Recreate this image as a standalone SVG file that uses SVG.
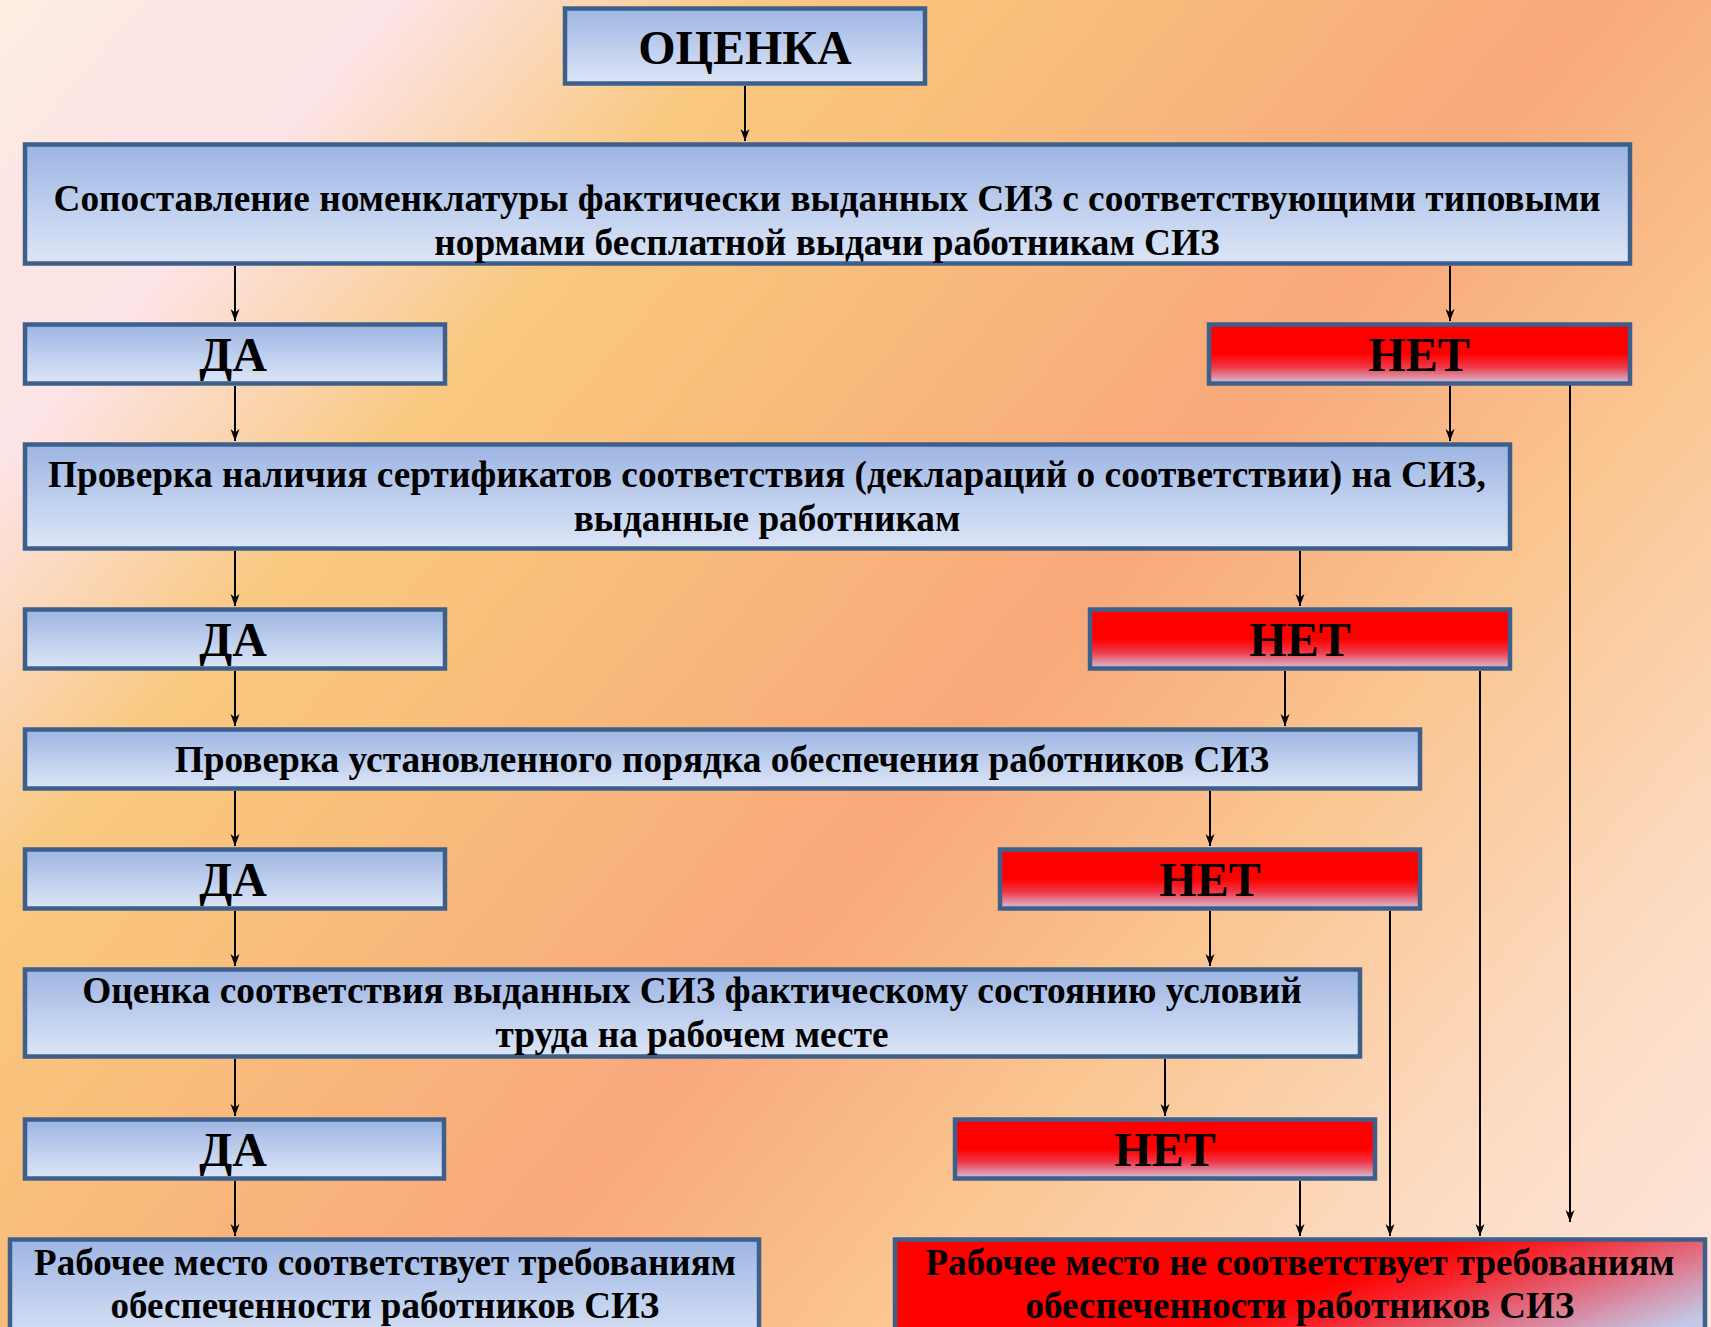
<svg xmlns="http://www.w3.org/2000/svg" width="1711" height="1327" viewBox="0 0 1711 1327">
<defs>
<linearGradient id="bg" gradientUnits="userSpaceOnUse" x1="0" y1="0" x2="1642" y2="1407">
<stop offset="0" stop-color="#fdeee2"/>
<stop offset="0.07" stop-color="#fde5e4"/>
<stop offset="0.14" stop-color="#fde4e6"/>
<stop offset="0.22" stop-color="#fad3a8"/>
<stop offset="0.27" stop-color="#f9c880"/>
<stop offset="0.36" stop-color="#f9c07c"/>
<stop offset="0.56" stop-color="#f8a87b"/>
<stop offset="0.7" stop-color="#fac590"/>
<stop offset="0.87" stop-color="#fcdcc4"/>
<stop offset="1" stop-color="#fde6dc"/>
</linearGradient>
<linearGradient id="blue" x1="0" y1="0" x2="0" y2="1">
<stop offset="0" stop-color="#9db5e3"/>
<stop offset="1" stop-color="#dde6f7"/>
</linearGradient>
<linearGradient id="red" x1="0" y1="0" x2="0" y2="1">
<stop offset="0" stop-color="#ff0000"/>
<stop offset="0.5" stop-color="#ff0000"/>
<stop offset="0.72" stop-color="#ee3848"/>
<stop offset="1" stop-color="#d4c4dc"/>
</linearGradient>
<linearGradient id="redh" x1="0" y1="0.3" x2="1" y2="0.7">
<stop offset="0" stop-color="#ff0000"/>
<stop offset="0.5" stop-color="#ff0000"/>
<stop offset="0.62" stop-color="#f5262e"/>
<stop offset="0.82" stop-color="#dc7c92"/>
<stop offset="1" stop-color="#c3c9e8"/>
</linearGradient>
<marker id="arr" markerUnits="userSpaceOnUse" markerWidth="14" markerHeight="12" viewBox="0 0 14 12" refX="13" refY="6" orient="auto">
<path d="M1,1.5 L13,6 L1,10.5 L4.5,6 Z" fill="#000"/>
</marker>
<style>
.b{fill:url(#blue);stroke:#3d5f8c;stroke-width:4.5}
.r{fill:url(#red);stroke:#3d5f8c;stroke-width:4.5}
.rh{fill:url(#redh);stroke:#3d5f8c;stroke-width:4.5}
.t{font-family:"Liberation Serif","Times New Roman",serif;font-weight:bold;fill:#000;text-anchor:middle}
.big{font-size:48px}
.m{font-size:37.3px}
.f{font-size:37px}
.c{fill:none;stroke:#000;stroke-width:2}
</style>
</defs>
<rect x="0" y="0" width="1711" height="1327" fill="url(#bg)"/>

<g id="connectors">
<line class="c" x1="745" y1="86" x2="745" y2="141" marker-end="url(#arr)"/>
<line class="c" x1="235" y1="266" x2="235" y2="321" marker-end="url(#arr)"/>
<line class="c" x1="1450" y1="266" x2="1450" y2="321" marker-end="url(#arr)"/>
<line class="c" x1="1450" y1="386" x2="1450" y2="441" marker-end="url(#arr)"/>
<line class="c" x1="235" y1="386" x2="235" y2="441" marker-end="url(#arr)"/>
<line class="c" x1="235" y1="551" x2="235" y2="606" marker-end="url(#arr)"/>
<line class="c" x1="1300" y1="551" x2="1300" y2="606" marker-end="url(#arr)"/>
<line class="c" x1="1285" y1="671" x2="1285" y2="726" marker-end="url(#arr)"/>
<line class="c" x1="235" y1="671" x2="235" y2="726" marker-end="url(#arr)"/>
<line class="c" x1="235" y1="791" x2="235" y2="846" marker-end="url(#arr)"/>
<line class="c" x1="1210" y1="791" x2="1210" y2="846" marker-end="url(#arr)"/>
<line class="c" x1="1210" y1="911" x2="1210" y2="966" marker-end="url(#arr)"/>
<line class="c" x1="235" y1="911" x2="235" y2="966" marker-end="url(#arr)"/>
<line class="c" x1="235" y1="1059" x2="235" y2="1116" marker-end="url(#arr)"/>
<line class="c" x1="1165" y1="1059" x2="1165" y2="1116" marker-end="url(#arr)"/>
<line class="c" x1="235" y1="1181" x2="235" y2="1236" marker-end="url(#arr)"/>
<line class="c" x1="1300" y1="1181" x2="1300" y2="1236" marker-end="url(#arr)"/>
<line class="c" x1="1390" y1="911" x2="1390" y2="1236" marker-end="url(#arr)"/>
<line class="c" x1="1480" y1="671" x2="1480" y2="1236" marker-end="url(#arr)"/>
<line class="c" x1="1570" y1="369" x2="1570" y2="1222" marker-end="url(#arr)"/>
</g>

<g id="ocenka">
<rect class="b" x="565" y="8.5" width="360" height="75"/>
<text class="t" x="745" y="64" style="font-size:48px">ОЦЕНКА</text>
</g>
<g id="box1">
<rect class="b" x="25" y="144.5" width="1605" height="119"/>
<text class="t m" x="827" y="211">Сопоставление номенклатуры фактически выданных СИЗ с соответствующими типовыми</text>
<text class="t m" x="827" y="255">нормами бесплатной выдачи работникам СИЗ</text>
</g>
<g id="da1">
<rect class="b" x="25" y="324.5" width="420" height="59"/>
<text class="t big" x="233" y="371">ДА</text>
</g>
<g id="net1">
<rect class="r" x="1209" y="324.5" width="421" height="59"/>
<text class="t big" x="1419" y="371">НЕТ</text>
</g>
<g id="box2">
<rect class="b" x="25" y="444.5" width="1485" height="104"/>
<text class="t m" x="767" y="487">Проверка наличия сертификатов соответствия (деклараций о соответствии) на СИЗ,</text>
<text class="t m" x="767" y="531">выданные работникам</text>
</g>
<g id="da2">
<rect class="b" x="25" y="609.5" width="420" height="59"/>
<text class="t big" x="233" y="656">ДА</text>
</g>
<g id="net2">
<rect class="r" x="1090" y="609.5" width="420" height="59"/>
<text class="t big" x="1300" y="656">НЕТ</text>
</g>
<g id="box3">
<rect class="b" x="25" y="729.5" width="1395" height="59"/>
<text class="t m" x="722" y="772">Проверка установленного порядка обеспечения работников СИЗ</text>
</g>
<g id="da3">
<rect class="b" x="25" y="849.5" width="420" height="59"/>
<text class="t big" x="233" y="896">ДА</text>
</g>
<g id="net3">
<rect class="r" x="1000" y="849.5" width="420" height="59"/>
<text class="t big" x="1210" y="896">НЕТ</text>
</g>
<g id="box4">
<rect class="b" x="25" y="969.5" width="1335" height="87"/>
<text class="t m" x="692" y="1003">Оценка соответствия выданных СИЗ фактическому состоянию условий</text>
<text class="t m" x="692" y="1047">труда на рабочем месте</text>
</g>
<g id="da4">
<rect class="b" x="25" y="1119.5" width="419" height="59"/>
<text class="t big" x="233" y="1166">ДА</text>
</g>
<g id="net4">
<rect class="r" x="955" y="1119.5" width="420" height="59"/>
<text class="t big" x="1165" y="1166">НЕТ</text>
</g>
<g id="final_ok">
<rect class="b" x="10" y="1239.5" width="749" height="110"/>
<text class="t f" x="385" y="1275">Рабочее место соответствует требованиям</text>
<text class="t f" x="385" y="1318">обеспеченности работников СИЗ</text>
</g>
<g id="final_no">
<rect class="rh" x="895" y="1239.5" width="810" height="110"/>
<text class="t f" x="1300" y="1275">Рабочее место не соответствует требованиям</text>
<text class="t f" x="1300" y="1318">обеспеченности работников СИЗ</text>
</g>
</svg>
